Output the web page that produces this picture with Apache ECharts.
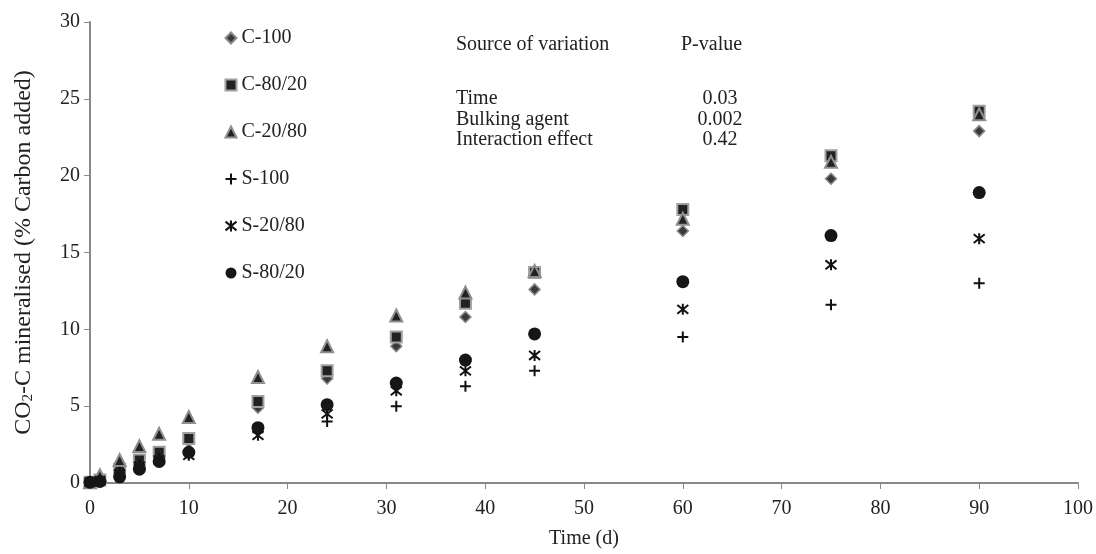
<!DOCTYPE html>
<html lang="en">
<head>
	<meta charset="UTF-8">
	<title>CO2-C mineralised</title>
	<style>
		html, body { margin: 0; padding: 0; background: #fff; }
		#main { width: 1096px; height: 554px; }
	</style>
</head>
<body>
	<div id="main"></div>
<script type="text/javascript" src="https://cdn.jsdelivr.net/npm/echarts@6/dist/echarts.min.js"></script>
<script type="text/javascript">
	// 数据
	var days = [0, 1, 3, 5, 7, 10, 17, 24, 31, 38, 45, 60, 75, 90];
	var c100 = [0.05, 0.2, 0.8, 1.3, 1.8, 2.7, 4.9, 6.8, 8.9, 10.8, 12.6, 16.4, 19.8, 22.9];
	var c8020 = [0.05, 0.2, 0.9, 1.5, 2.0, 2.9, 5.3, 7.3, 9.5, 11.7, 13.7, 17.8, 21.3, 24.2];
	var c2080 = [0.05, 0.5, 1.5, 2.4, 3.2, 4.3, 6.9, 8.9, 10.9, 12.4, 13.8, 17.2, 20.9, 24.0];
	var s100 = [0.05, 0.15, 0.7, 1.2, 1.6, 1.9, 3.3, 4.0, 5.0, 6.3, 7.3, 9.5, 11.6, 13.0];
	var s2080 = [0.05, 0.15, 0.6, 1.1, 1.5, 1.8, 3.1, 4.5, 6.0, 7.3, 8.3, 11.3, 14.2, 15.9];
	var s8020 = [0.05, 0.1, 0.4, 0.9, 1.4, 2.0, 3.6, 5.1, 6.5, 8.0, 9.7, 13.1, 16.1, 18.9];

	var tableRows = ['Time', 'Bulking agent', 'Interaction effect'];
	var tableValues = ['0.03', '0.002', '0.42'];

	var font = '"Liberation Serif", "Times New Roman", serif';
	var axisGrey = '#898989';
	var textCol = '#222';

	function pairs(ys) {
		var out = [];
		for (var i = 0; i < days.length; i++) {
			out.push([days[i], ys[i]]);
		}
		return out;
	}

	var plusPath = 'path://M5,0L5,10M0,5L10,5';
	var starPath = 'path://M0,1L10,9M10,1L0,9M5,0L5,10';

	var series = [
		{ name: 'C-100', data: c100, symbol: 'diamond', symbolSize: 11,
		  itemStyle: { color: '#3a3a3a', borderColor: '#8a8a8a', borderWidth: 1.5 } },
		{ name: 'C-80/20', data: c8020, symbol: 'rect', symbolSize: 11,
		  itemStyle: { color: '#222', borderColor: '#a0a0a0', borderWidth: 2 } },
		{ name: 'C-20/80', data: c2080, symbol: 'triangle', symbolSize: 12,
		  itemStyle: { color: '#222', borderColor: '#8f8f8f', borderWidth: 2 } },
		{ name: 'S-100', data: s100, symbol: plusPath, symbolSize: 11,
		  itemStyle: { color: 'none', borderColor: '#111', borderWidth: 2 } },
		{ name: 'S-20/80', data: s2080, symbol: starPath, symbolSize: 11,
		  itemStyle: { color: 'none', borderColor: '#111', borderWidth: 2 } },
		{ name: 'S-80/20', data: s8020, symbol: 'circle', symbolSize: 13,
		  itemStyle: { color: '#161616' } }
	].map(function (s) {
		s.itemStyle.opacity = 1;
		return {
			name: s.name,
			type: 'scatter',
			data: pairs(s.data),
			symbol: s.symbol,
			symbolSize: s.symbolSize,
			itemStyle: s.itemStyle,
			emphasis: { disabled: true }
		};
	});

	// 表格文字
	var graphics = [
		{ type: 'text', left: 456, top: 35, style: { text: 'Source of variation', font: '20px ' + font, fill: textCol } },
		{ type: 'text', left: 681, top: 35, style: { text: 'P-value', font: '20px ' + font, fill: textCol } }
	];
	for (var i = 0; i < tableRows.length; i++) {
		graphics.push({ type: 'text', left: 456, top: 89 + i * 20.5, style: { text: tableRows[i], font: '20px ' + font, fill: textCol } });
		graphics.push({ type: 'text', x: 720, y: 89 + i * 20.5, style: { text: tableValues[i], font: '20px ' + font, fill: textCol, align: 'center' } });
	}

	var myChart = echarts.init(document.getElementById('main'));
	var option = {
		animation: false,
		textStyle: { fontFamily: font },
		grid: { left: 90, right: 18, top: 22, bottom: 69, containLabel: false },
		legend: {
			orient: 'vertical',
			left: 218,
			top: 22,
			itemWidth: 11,
			itemHeight: 11,
			itemGap: 25,
			textStyle: { fontFamily: font, fontSize: 20, color: textCol, lineHeight: 22 },
			data: ['C-100', 'C-80/20', 'C-20/80', 'S-100', 'S-20/80', 'S-80/20']
		},
		xAxis: {
			type: 'value',
			min: 0,
			max: 100,
			interval: 10,
			name: 'Time (d)',
			nameLocation: 'middle',
			nameGap: 46,
			nameTextStyle: { fontFamily: font, fontSize: 20, color: textCol },
			axisLine: { lineStyle: { color: axisGrey, width: 2 } },
			axisTick: { show: true, length: 6, lineStyle: { color: axisGrey } },
			axisLabel: { fontFamily: font, fontSize: 20, color: textCol, margin: 16 },
			splitLine: { show: false }
		},
		yAxis: {
			type: 'value',
			min: 0,
			max: 30,
			interval: 5,
			name: 'CO{sub|2}-C mineralised (% Carbon added)',
			nameLocation: 'middle',
			nameGap: 54,
			nameTextStyle: {
				fontFamily: font, fontSize: 24, color: textCol,
				rich: { sub: { fontFamily: font, fontSize: 15, color: textCol, verticalAlign: 'bottom', padding: [10, 0, 0, 0] } }
			},
			axisLine: { show: true, lineStyle: { color: axisGrey, width: 2 } },
			axisTick: { show: true, length: 6, lineStyle: { color: axisGrey } },
			axisLabel: { fontFamily: font, fontSize: 20, color: textCol, margin: 10 },
			splitLine: { show: false }
		},
		graphic: graphics,
		series: series
	};
	myChart.setOption(option);
</script>
</body>
</html>
